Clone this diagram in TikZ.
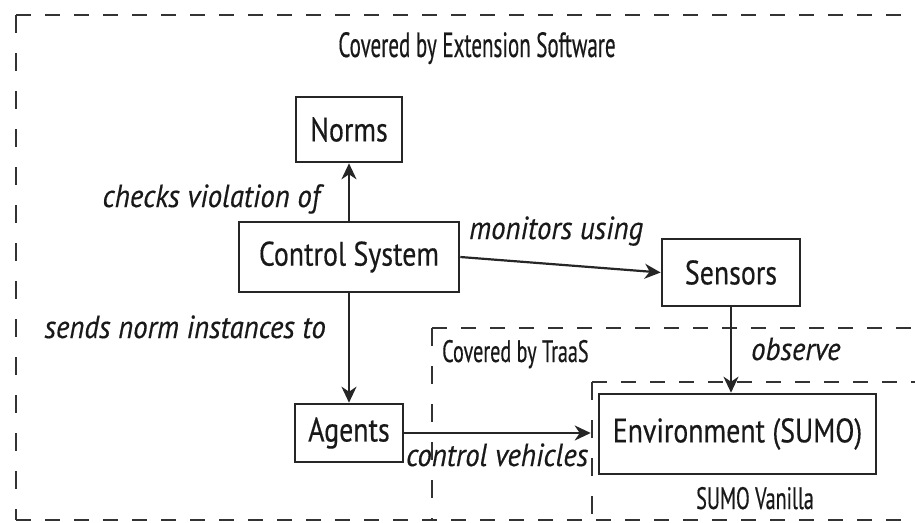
\documentclass[tikz,border=0pt]{standalone}
\usepackage{fontspec}
\setmainfont{PT Sans}[FakeStretch=0.82,FakeBold=0.4]
\newfontfamily\labfont{PT Sans}[FakeStretch=0.9,FakeBold=0.4]
\newfontfamily\condfont{PT Sans}[FakeStretch=0.65,FakeBold=0.4]
\newfontfamily\titlefont{PT Sans}[FakeStretch=0.6,FakeBold=0.4]
\usetikzlibrary{arrows.meta}
\begin{document}
\begin{tikzpicture}[x=1pt,y=-1pt,
  box/.style={draw=black!85, line width=2.6pt, inner sep=0pt, font=\fontsize{34}{37}\selectfont, text=black!90},
  lbl/.style={inner sep=0pt, font=\fontsize{32}{35}\selectfont\labfont\itshape, text=black!90},
  cov/.style={inner sep=0pt, font=\fontsize{31}{34}\selectfont\condfont, text=black!90},
  conn/.style={draw=black!85, line width=2.2pt, -{Stealth[length=16pt,width=15pt,inset=5pt]}},
  hdash/.style={draw=black!80, line width=2.6pt, dash pattern=on 15pt off 14pt},
  vdash/.style={draw=black!80, line width=2.6pt, dash pattern=on 18pt off 20pt}]
\useasboundingbox (0,0) rectangle (915,522);
% frames
\coordinate (o1) at (16,15);
\coordinate (o2) at (16,520);
\coordinate (o3) at (920,15);
\coordinate (o4) at (920,520);
\draw[hdash] (o1) -- (o3);
\draw[vdash] (o1) -- (o2);
\draw[hdash] (o2) -- (o4);
\coordinate (t1) at (432,328);
\coordinate (t2) at (432,520);
\coordinate (t3) at (920,328);
\draw[hdash] (t1) -- (t3);
\draw[vdash] (t1) -- (t2);
\coordinate (s1) at (592,382);
\coordinate (s2) at (592,520);
\coordinate (s3) at (920,382);
\draw[hdash] (s1) -- (s3);
\draw[vdash] (s1) -- (s2);
% frame labels
\node[inner sep=0pt, text=black!90, font=\fontsize{35}{38}\selectfont\titlefont, anchor=base] (ttl) at (477,57) {Covered by Extension Software};
\node[cov, anchor=base west] (tra) at (442,362) {Covered by TraaS};
\node[cov, anchor=base] (van) at (755,509) {SUMO Vanilla};
% boxes
\node[box, minimum width=106pt, minimum height=65pt] (norms) at (349,129.5) {Norms};
\node[box, minimum width=220pt, minimum height=70pt] (cs) at (349,257) {Control System};
\node[box, minimum width=108pt, minimum height=58pt] (agents) at (349,433) {Agents};
\node[box, minimum width=138pt, minimum height=67pt] (sensors) at (731,272.5) {Sensors};
\node[box, minimum width=277pt, minimum height=80pt] (env) at (737.5,434) {Environment (SUMO)};
% connectors
\draw[conn] (cs.north) -- (norms.south);
\draw[conn] (cs.east) -- (sensors.west);
\draw[conn] (cs.south) -- (agents.north);
\draw[conn, shorten >=7pt] (agents.east) -- (agents.east -| env.west);
\draw[conn] (sensors.south) -- (sensors.south |- env.north);
% connector labels
\node[lbl, anchor=base east] (l1) at (320,207) {checks violation of};
\node[lbl, anchor=base west] (l2) at (469,239) {monitors using};
\node[lbl, anchor=base east] (l3) at (326,338) {sends norm instances to};
\node[lbl, anchor=base west] (l4) at (751,360) {observe};
\node[lbl, anchor=base west] (l5) at (406,466) {control vehicles};
\end{tikzpicture}
\end{document}
